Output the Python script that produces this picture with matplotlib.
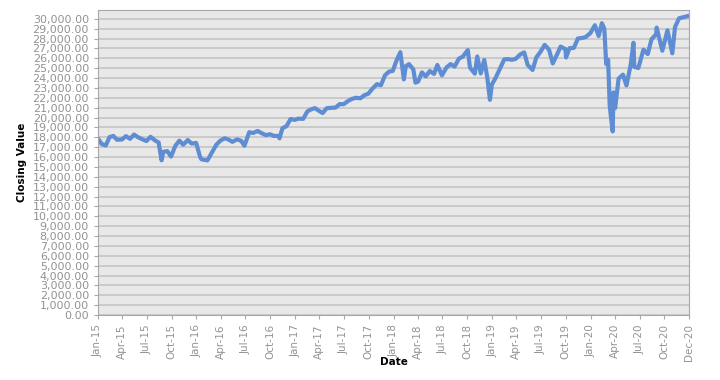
import matplotlib
matplotlib.use("Agg")
import matplotlib.pyplot as plt
import matplotlib.dates as mdates
from matplotlib.ticker import FuncFormatter, MultipleLocator
import pandas as pd

# closing values, read roughly twice a month off the chart
dates = [
    "2015-01-02", "2015-01-15", "2015-01-30", "2015-02-13", "2015-02-27", "2015-03-13", "2015-03-31",
    "2015-04-15", "2015-04-30", "2015-05-15", "2015-05-29", "2015-06-15", "2015-06-30", "2015-07-15",
    "2015-07-31", "2015-08-14", "2015-08-25", "2015-08-31", "2015-09-15", "2015-09-29", "2015-10-15",
    "2015-10-30", "2015-11-13", "2015-11-30", "2015-12-14", "2015-12-31",
    "2016-01-15", "2016-01-20", "2016-02-11", "2016-02-29", "2016-03-15", "2016-03-31", "2016-04-15",
    "2016-04-29", "2016-05-13", "2016-05-31", "2016-06-15", "2016-06-27", "2016-07-15", "2016-07-29",
    "2016-08-15", "2016-08-31", "2016-09-15", "2016-09-30", "2016-10-14", "2016-10-31", "2016-11-04",
    "2016-11-15", "2016-11-30", "2016-12-15", "2016-12-30",
    "2017-01-13", "2017-01-31", "2017-02-15", "2017-02-28", "2017-03-15", "2017-03-31", "2017-04-13",
    "2017-04-28", "2017-05-15", "2017-05-31", "2017-06-15", "2017-06-30", "2017-07-14", "2017-07-31",
    "2017-08-15", "2017-08-31", "2017-09-15", "2017-09-29", "2017-10-13", "2017-10-31", "2017-11-15",
    "2017-11-30", "2017-12-15", "2017-12-29",
    "2018-01-12", "2018-01-26", "2018-02-08", "2018-02-15", "2018-02-27", "2018-03-15", "2018-03-23",
    "2018-04-02", "2018-04-16", "2018-04-30", "2018-05-15", "2018-05-31", "2018-06-12", "2018-06-29",
    "2018-07-16", "2018-07-31", "2018-08-15", "2018-08-31", "2018-09-14", "2018-10-03", "2018-10-11",
    "2018-10-29", "2018-11-07", "2018-11-20", "2018-12-03", "2018-12-14", "2018-12-24", "2018-12-31",
    "2019-01-15", "2019-01-31", "2019-02-15", "2019-02-28", "2019-03-15", "2019-03-29", "2019-04-15",
    "2019-04-30", "2019-05-13", "2019-05-31", "2019-06-14", "2019-06-28", "2019-07-15", "2019-07-31",
    "2019-08-14", "2019-08-30", "2019-09-12", "2019-09-30", "2019-10-02", "2019-10-15", "2019-10-31",
    "2019-11-15", "2019-11-29", "2019-12-13", "2019-12-31",
    "2020-01-17", "2020-01-31", "2020-02-12", "2020-02-21", "2020-02-28", "2020-03-06", "2020-03-12",
    "2020-03-16", "2020-03-23", "2020-03-26", "2020-04-01", "2020-04-14", "2020-04-30", "2020-05-13",
    "2020-05-29", "2020-06-08", "2020-06-11", "2020-06-26", "2020-07-15", "2020-07-31", "2020-08-14",
    "2020-08-31", "2020-09-02", "2020-09-23", "2020-10-12", "2020-10-30", "2020-11-09", "2020-11-24",
    "2020-12-15", "2020-12-31",
]
closing = [
    17833, 17320, 17165, 18019, 18133, 17750, 17776,
    18113, 17841, 18273, 18011, 17791, 17620, 18050,
    17690, 17477, 15666, 16528, 16600, 16049, 17142,
    17663, 17245, 17720, 17368, 17425,
    15988, 15766, 15660, 16516, 17251, 17685, 17897,
    17773, 17535, 17787, 17640, 17140, 18516, 18432,
    18636, 18400, 18212, 18308, 18138, 18142, 17888,
    18923, 19123, 19852, 19763,
    19886, 19864, 20611, 20812, 20950, 20663, 20453,
    20941, 20982, 21009, 21360, 21350, 21638, 21891,
    22000, 21948, 22268, 22405, 22871, 23377, 23271,
    24272, 24651, 24719,
    25803, 26617, 23860, 25200, 25410, 24873, 23533,
    23644, 24573, 24163, 24706, 24416, 25320, 24271,
    25064, 25415, 25162, 25965, 26154, 26828, 25052,
    24443, 26180, 24465, 25826, 24100, 21792, 23327,
    24065, 24999, 25883, 25916, 25849, 25929, 26384,
    26593, 25324, 24815, 26090, 26600, 27359, 26864,
    25479, 26403, 27182, 26917, 26079, 27025, 27046,
    28005, 28051, 28135, 28538,
    29348, 28256, 29551, 28992, 25409, 25864, 21200,
    20188, 18591, 22552, 20943, 23949, 24345, 23247,
    25383, 27572, 25128, 25016, 26870, 26428, 27931,
    28430, 29100, 26763, 28837, 26502, 29158, 30046,
    30199, 30306,
]
tick_dates = pd.date_range("2015-01-01", "2020-10-01", freq="QS").tolist() + [pd.Timestamp("2020-12-31")]

x = pd.to_datetime(dates)

fig = plt.figure(figsize=(7.2, 3.8), dpi=100)
ax = fig.add_axes([0.136, 0.171, 0.821, 0.803])
ax.set_facecolor("#e8e8e8")
ax.plot(x, closing, color="#5f8dd3", linewidth=3.0, solid_joinstyle="round")

ax.set_xlim(pd.Timestamp("2015-01-01"), pd.Timestamp("2020-12-31"))
ax.set_ylim(0, 30900)
ax.yaxis.set_major_locator(MultipleLocator(1000))
ax.yaxis.set_major_formatter(FuncFormatter(lambda v, p: f"{v:,.2f}"))
ax.set_xticks(tick_dates)
ax.xaxis.set_major_formatter(mdates.DateFormatter("%b-%y"))
plt.setp(ax.get_xticklabels(), rotation=90)

ax.grid(axis="y", color="#c4c4c4", linewidth=1.2)
ax.set_axisbelow(True)
for s in ax.spines.values():
    s.set_color("#a8a8a8")
ax.tick_params(colors="#a8a8a8", labelcolor="#939393", labelsize=8, length=3)
ax.tick_params(axis="x", labelsize=7.5)

ax.set_ylabel("Closing Value", fontweight="bold", fontsize=7.5, labelpad=4)
ax.set_xlabel("Date", fontweight="bold", fontsize=7.5, labelpad=-3)

fig.savefig("out.png", dpi=100)
